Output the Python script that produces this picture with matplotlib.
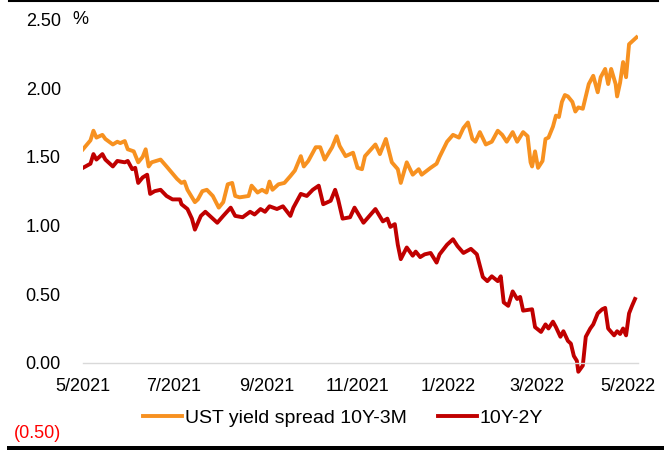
import pandas as pd
import matplotlib
matplotlib.use('Agg')
import matplotlib.pyplot as plt
from matplotlib.lines import Line2D
from matplotlib.ticker import FuncFormatter

plt.rcParams['font.family'] = ['Liberation Sans', 'DejaVu Sans']

# start of the x axis
START = pd.Timestamp('2021-05-01')

# UST yield spread 10Y-3M, days after START and value in %
spread_3m_days = [0, 5, 7, 9, 13, 15, 20, 23, 25, 28, 30, 34, 37, 40, 42, 44, 46, 52, 56,
                  63, 66, 68, 70, 75, 77, 80, 83, 87, 91, 94, 97, 100, 102, 105, 111, 113,
                  117, 120, 123, 125, 127, 131, 135, 139, 142, 146, 148, 151, 156, 159, 162,
                  167, 170, 172, 176, 181, 184, 187, 189, 196, 199, 203, 207, 211, 213, 217,
                  221, 225, 227, 233, 237, 239, 244, 248, 252, 255, 258, 261, 263, 266, 270,
                  274, 278, 281, 284, 288, 291, 295, 298, 300, 301, 303, 305, 308, 310, 312,
                  315, 317, 319, 321, 323, 325, 328, 330, 332, 335, 337, 339, 342, 345, 347,
                  350, 352, 354, 357, 358, 360, 362, 364, 366, 369, 371]
spread_3m = [1.555, 1.62, 1.69, 1.64, 1.66, 1.63, 1.59, 1.61, 1.60, 1.615, 1.555, 1.54, 1.46,
             1.50, 1.555, 1.43, 1.46, 1.48, 1.43, 1.34, 1.31, 1.32, 1.26, 1.17, 1.19, 1.25,
             1.26, 1.215, 1.13, 1.17, 1.30, 1.31, 1.215, 1.205, 1.215, 1.29, 1.24, 1.26, 1.24,
             1.32, 1.26, 1.30, 1.31, 1.36, 1.40, 1.505, 1.43, 1.47, 1.57, 1.57, 1.48, 1.57,
             1.65, 1.58, 1.505, 1.53, 1.42, 1.41, 1.505, 1.59, 1.52, 1.63, 1.46, 1.41, 1.31,
             1.46, 1.37, 1.41, 1.37, 1.42, 1.45, 1.50, 1.61, 1.66, 1.64, 1.71, 1.75, 1.63,
             1.61, 1.68, 1.59, 1.61, 1.69, 1.66, 1.61, 1.68, 1.61, 1.68, 1.65, 1.46, 1.43,
             1.54, 1.42, 1.47, 1.63, 1.64, 1.72, 1.80, 1.79, 1.90, 1.95, 1.94, 1.90, 1.83,
             1.86, 1.85, 1.94, 2.03, 2.09, 1.97, 2.08, 2.14, 2.03, 2.14, 2.03, 1.94, 2.04,
             2.19, 2.08, 2.32, 2.35, 2.37]

# 10Y-2Y
spread_2y_days = [0, 5, 7, 9, 13, 15, 20, 23, 28, 30, 33, 35, 37, 40, 43, 45, 48, 52, 56, 60,
                  65, 66, 70, 73, 75, 79, 82, 85, 90, 94, 99, 102, 107, 112, 115, 119, 122,
                  125, 130, 134, 139, 141, 146, 150, 154, 158, 161, 166, 169, 171, 174, 179,
                  182, 188, 196, 201, 204, 206, 209, 211, 213, 217, 221, 223, 226, 229, 233,
                  237, 239, 244, 248, 251, 255, 260, 264, 268, 271, 274, 278, 280, 282, 285,
                  288, 291, 293, 295, 301, 303, 307, 310, 312, 315, 317, 320, 322, 325, 327,
                  329, 331, 332, 335, 337, 340, 342, 345, 348, 350, 352, 356, 358, 360, 362,
                  364, 366, 368, 370]
spread_2y = [1.42, 1.45, 1.52, 1.48, 1.52, 1.48, 1.43, 1.47, 1.46, 1.47, 1.41, 1.42, 1.31,
             1.35, 1.37, 1.23, 1.25, 1.26, 1.215, 1.19, 1.19, 1.155, 1.12, 1.05, 0.97, 1.07,
             1.10, 1.07, 1.02, 1.07, 1.13, 1.07, 1.06, 1.10, 1.08, 1.12, 1.10, 1.14, 1.12,
             1.14, 1.07, 1.13, 1.23, 1.215, 1.26, 1.29, 1.155, 1.18, 1.26, 1.19, 1.05, 1.06,
             1.13, 1.02, 1.12, 1.03, 1.05, 0.99, 1.01, 0.86, 0.755, 0.84, 0.78, 0.81, 0.77,
             0.79, 0.80, 0.73, 0.79, 0.86, 0.90, 0.85, 0.80, 0.83, 0.79, 0.625, 0.595, 0.63,
             0.595, 0.63, 0.44, 0.415, 0.52, 0.465, 0.48, 0.38, 0.39, 0.26, 0.225, 0.28, 0.25,
             0.30, 0.26, 0.19, 0.23, 0.16, 0.14, 0.05, 0.015, -0.065, -0.02, 0.19, 0.25, 0.28,
             0.36, 0.39, 0.40, 0.25, 0.20, 0.23, 0.21, 0.25, 0.20, 0.36, 0.415, 0.465]

xtick_dates = ['2021-05-01', '2021-07-01', '2021-09-01', '2021-11-01',
               '2022-01-01', '2022-03-01', '2022-05-01']
xtick_labels = ['5/2021', '7/2021', '9/2021', '11/2021', '1/2022', '3/2022', '5/2022']
yticks = [-0.5, 0, 0.5, 1.0, 1.5, 2.0, 2.5]

ORANGE = '#F79120'
RED = '#C00000'

W, H = 672, 450
fig = plt.figure(figsize=(W / 100, H / 100), dpi=100)
ax = fig.add_axes([83 / W, 18.5 / H, 555 / W, 412 / H])

x3m = START + pd.to_timedelta(spread_3m_days, unit='D')
x2y = START + pd.to_timedelta(spread_2y_days, unit='D')
l1, = ax.plot(x3m, spread_3m, color=ORANGE, lw=2.8, solid_joinstyle='round',
              label='UST yield spread 10Y-3M')
l2, = ax.plot(x2y, spread_2y, color=RED, lw=2.8, solid_joinstyle='round', label='10Y-2Y')

ax.set_xlim(START, START + pd.Timedelta(days=372))
ax.set_ylim(-0.5, 2.5)

# x axis sits on the zero line
for s in ['left', 'right', 'top']:
    ax.spines[s].set_visible(False)
ax.spines['bottom'].set_position(('data', 0))
ax.spines['bottom'].set_color('#D9D9D9')
ax.spines['bottom'].set_linewidth(1.0)

ax.set_xticks(pd.to_datetime(xtick_dates))
ax.set_xticklabels(xtick_labels)
ax.tick_params(axis='x', length=0, pad=11, labelsize=13)

ax.set_yticks(yticks)
ax.yaxis.set_major_formatter(FuncFormatter(
    lambda v, p: '({:.2f})'.format(-v) if v < 0 else '{:.2f}'.format(v)))
ax.tick_params(axis='y', length=0, pad=16, labelsize=13)
for lab, v in zip(ax.get_yticklabels(), yticks):
    if v < 0:
        lab.set_color('red')

fig.text(72 / W, 1 - 19.5 / H, '%', fontsize=13, va='center', ha='left')

fig.legend(handles=[l1, l2], loc='center', bbox_to_anchor=(343 / W, 1 - 418 / H),
           ncol=2, frameon=False, fontsize=14, handlelength=2.0, handletextpad=0.15,
           columnspacing=1.6)

# black rules top and bottom
fig.add_artist(Line2D([9 / W, 658 / W], [1 - 1 / H, 1 - 1 / H], transform=fig.transFigure,
                      color='black', lw=1.5))
fig.add_artist(Line2D([9 / W, 661 / W], [2.5 / H, 2.5 / H], transform=fig.transFigure,
                      color='black', lw=3.6))

fig.savefig('out.png', dpi=100)
